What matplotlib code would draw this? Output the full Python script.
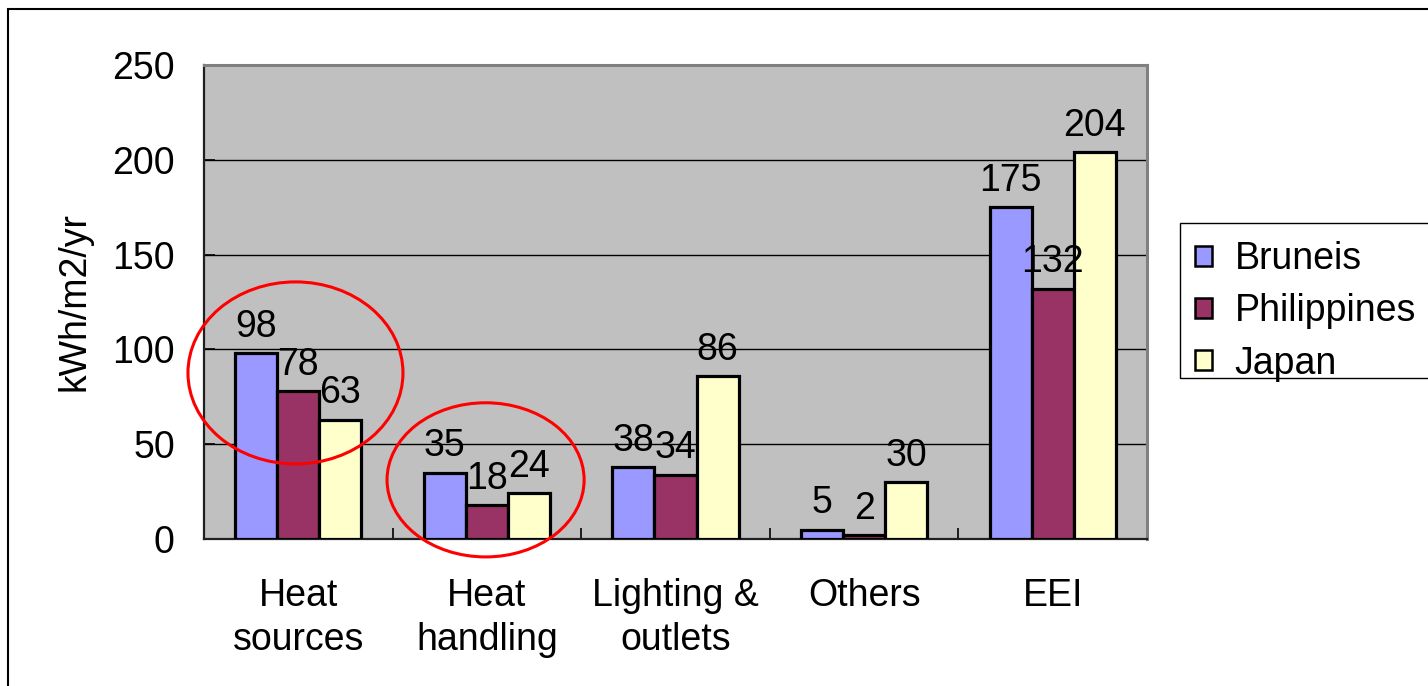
import matplotlib
matplotlib.use("Agg")
import matplotlib.pyplot as plt
from matplotlib.patches import Ellipse, Rectangle
import numpy as np

plt.rcParams['font.family'] = ['Liberation Sans', 'DejaVu Sans']

categories = ["Heat\nsources", "Heat\nhandling", "Lighting &\noutlets", "Others", "EEI"]
series_names = ["Bruneis", "Philippines", "Japan"]
bruneis = [98, 35, 38, 5, 175]
philippines = [78, 18, 34, 2, 132]
japan = [63, 24, 86, 30, 204]
yticks = [0, 50, 100, 150, 200, 250]

colors = ["#9999FF", "#993366", "#FFFFCC"]
FS = 27

fig = plt.figure(figsize=(14.28, 6.86), dpi=100)
ax = fig.add_axes([204 / 1428, 147 / 686, 943 / 1428, 474 / 686])
ax.set_facecolor("#C0C0C0")

x = np.arange(len(categories))
width = 0.223
for i, (vals, name, col) in enumerate(zip([bruneis, philippines, japan], series_names, colors)):
    pos = x + (i - 1) * width
    ax.bar(pos, vals, width, color=col, edgecolor="black", linewidth=2.3,
           label=name, zorder=3)
    for px, v in zip(pos, vals):
        ax.annotate(str(v), (px, v), xytext=(0, 6), textcoords="offset points",
                    ha="center", va="bottom", fontsize=FS, zorder=4)

ax.set_xlim(-0.5, len(categories) - 0.5)
ax.set_ylim(0, 250)
ax.set_yticks(yticks)
ax.set_yticklabels([str(t) for t in yticks], fontsize=FS)
ax.yaxis.grid(True, color="black", linewidth=1.0, zorder=1)
ax.set_axisbelow(True)

ax.set_xticks(x)
ax.set_xticklabels(categories, fontsize=FS, linespacing=1.3)
ax.set_xticks(np.arange(len(categories) + 1) - 0.5, minor=True)
ax.tick_params(axis="x", which="major", length=0, pad=28)
ax.tick_params(axis="x", which="minor", direction="in", length=8, width=1.2)
ax.tick_params(axis="y", direction="in", length=8, width=1.2, pad=21)

ax.set_ylabel("kWh/m2/yr", fontsize=FS, labelpad=14)

for side in ("top", "right"):
    ax.spines[side].set_color("#808080")
    ax.spines[side].set_linewidth(2.2)
for side in ("left", "bottom"):
    ax.spines[side].set_color("#202020")
    ax.spines[side].set_linewidth(1.6)

# highlight rings around the first two groups
ax.add_patch(Ellipse((-0.015, 87.6), 1.14, 96, fill=False, edgecolor="#FF0000",
                     linewidth=2.2, clip_on=False, zorder=5))
ax.add_patch(Ellipse((0.993, 31.2), 1.045, 81.3, fill=False, edgecolor="#FF0000",
                     linewidth=2.2, clip_on=False, zorder=5))

# legend entries, with the box drawn separately
leg = fig.legend(loc="upper left", bbox_to_anchor=(1181 / 1428, 1 - 227 / 686),
                 fontsize=FS, frameon=False, borderaxespad=0,
                 handlelength=0.45, handleheight=0.45, handletextpad=0.6,
                 labelspacing=0.43, borderpad=0.38)
for h in leg.legend_handles:
    h.set_linewidth(1.8)
fig.add_artist(Rectangle((1180 / 1428, 1 - 378 / 686), 0.5, 155 / 686,
                         transform=fig.transFigure, fill=False,
                         edgecolor="black", linewidth=1.0))

# outer chart border
fig.add_artist(Rectangle((8 / 1428, -0.1), 2.0, 1 - 9 / 686 + 0.1,
                         transform=fig.transFigure, fill=False,
                         edgecolor="black", linewidth=1.5))

fig.savefig("out.png", dpi=100)
